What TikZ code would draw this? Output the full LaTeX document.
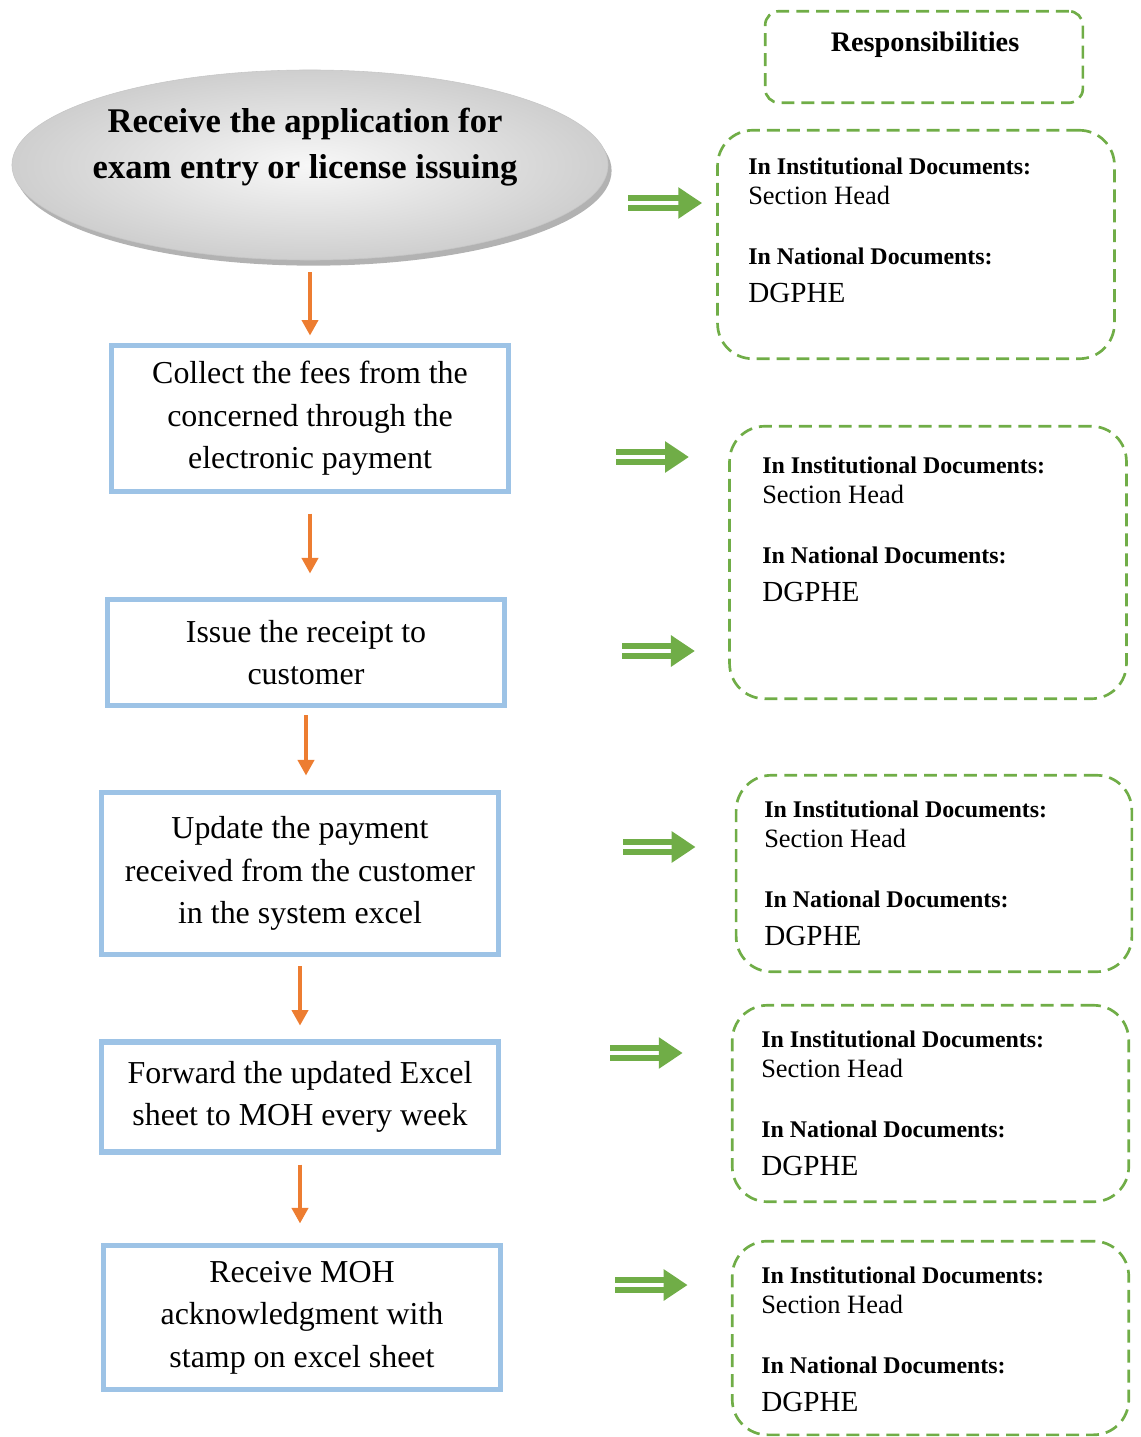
\documentclass[tikz,border=0pt]{standalone}
\usepackage{fontspec}
\setmainfont{Liberation Serif}
\usetikzlibrary{arrows.meta,shapes.geometric,shadows}

\definecolor{boxblue}{HTML}{9DC3E6}
\definecolor{flowred}{HTML}{ED7D31}
\definecolor{respgreen}{HTML}{70AD47}

\tikzset{
  stepbox/.style={rectangle,
        draw = boxblue,
        line width = 3.9pt,
        align = center,
        minimum width = 9.91cm,
        font = \fontsize{22.7}{30.2}\selectfont},
  respbox/.style={rectangle,
        draw = respgreen,
        line width = 1.9pt,
        rounded corners = 25pt,
        dash pattern = on 9.2pt off 5pt,
        minimum width = 9.92cm},
  resptext/.style={anchor = north west,
        inner sep = 0pt,
        align = left,
        font = \fontsize{17}{21.3}\selectfont},
  flowarr/.style={draw = flowred,
        line width = 2.4pt,
        -{Triangle[length=11pt,width=11.5pt]}},
  greenarr/.style={draw = respgreen,
        line width = 4.3pt,
        double = white,
        double distance = 2.6pt,
        -{Triangle[length=17pt,width=21.3pt]}}
}

\newcommand{\respdocs}{\textbf{In Institutional Documents:}\\
  {\fontsize{18.8}{21.3}\selectfont Section Head}\\[21.4pt]
  \textbf{In National Documents:}\\[5.7pt]
  {\fontsize{20.7}{21.3}\selectfont DGPHE}}

\begin{document}
\begin{tikzpicture}[x=0.025cm, y=-0.025cm]
  \useasboundingbox (0,0) rectangle (1140,1437);

  % first step
  \node[ellipse,
        draw = gray!45,
        inner color = gray!6,
        outer color = gray!38,
        drop shadow = {shadow xshift=2.5pt, shadow yshift=-4pt, fill=gray!60, opacity=1},
        minimum width = 14.9cm,
        minimum height = 4.75cm
        ] (recv) at (310,165) {};
  \node[align = center,
        font = \bfseries\fontsize{24.6}{32.7}\selectfont
        ] (recvtxt) at (305,147) {Receive the application for\\ exam entry or license issuing};

  % the other steps
  \node[stepbox, minimum height = 3.64cm] (collect) at (310,418.5)
    {Collect the fees from the\\ concerned through the\\ electronic payment};
  \node[stepbox, minimum height = 2.64cm] (receipt) at (306,652.5)
    {Issue the receipt to\\ customer};
  \node[stepbox, minimum height = 4.04cm] (update) at (300,873.5)
    {Update the payment\\ received from the customer\\ in the system excel};
  \node[stepbox, minimum height = 2.76cm] (forward) at (300,1097)
    {Forward the updated Excel\\ sheet to MOH every week};
  \node[stepbox, minimum height = 3.59cm] (ack) at (302,1317.5)
    {Receive MOH\\ acknowledgment with\\ stamp on excel sheet};

  % responsibilities
  \node[respbox,
        rounded corners = 10pt,
        minimum width = 7.94cm,
        minimum height = 2.29cm
        ] (resphead) at (924,57) {};
  \node[font = \bfseries\fontsize{20.1}{24}\selectfont] (resptitle) at (925,45) {Responsibilities};

  \node[respbox, minimum height = 5.71cm] (respA) at (916,244.5) {};
  \node[resptext] (respAtxt) at (748,158) {\respdocs};

  \node[respbox, minimum height = 6.81cm] (respB) at (928,562.5) {};
  \node[resptext] (respBtxt) at (762,457) {\respdocs};

  \node[respbox, minimum height = 4.91cm, minimum width = 9.89cm] (respC) at (934,873.5) {};
  \node[resptext] (respCtxt) at (764,801) {\respdocs};

  \node[respbox, minimum height = 4.91cm, minimum width = 9.91cm] (respD) at (930.5,1103.5) {};
  \node[resptext] (respDtxt) at (761,1031) {\respdocs};

  \node[respbox, minimum height = 4.84cm, minimum width = 9.91cm] (respE) at (930.5,1338) {};
  \node[resptext] (respEtxt) at (761,1267) {\respdocs};

  % starts of the green arrows
  \coordinate (g1) at (628,203);
  \coordinate (g2) at (616,457);
  \coordinate (g3) at (622,651);
  \coordinate (g4) at (623,847);
  \coordinate (g5) at (610,1053);
  \coordinate (g6) at (615,1285);

  \path
  %flow
  (recv.south) edge [flowarr, shorten <=8.5pt, shorten >=5.3pt] (recv.south |- collect.north)
  (collect.south) edge [flowarr, shorten <=13.9pt, shorten >=16.7pt] (collect.south |- receipt.north)
  (receipt.south) edge [flowarr, shorten <=5pt, shorten >=10.3pt] (receipt.south |- update.north)
  (update.south) edge [flowarr, shorten <=6.4pt, shorten >=9.6pt] (update.south |- forward.north)
  (forward.south) edge [flowarr, shorten <=6.8pt, shorten >=13.9pt] (forward.south |- ack.north)
  %responsibilities
  (g1) edge [greenarr, shorten >=10pt] (g1 -| respA.west)
  (g2) edge [greenarr, shorten >=27.9pt] (g2 -| respB.west)
  (g3) edge [greenarr, shorten >=23.7pt] (g3 -| respB.west)
  (g4) edge [greenarr, shorten >=27.9pt] (g4 -| respC.west)
  (g5) edge [greenarr, shorten >=34.3pt] (g5 -| respD.west)
  (g6) edge [greenarr, shorten >=30.8pt] (g6 -| respE.west);

\end{tikzpicture}
\end{document}
